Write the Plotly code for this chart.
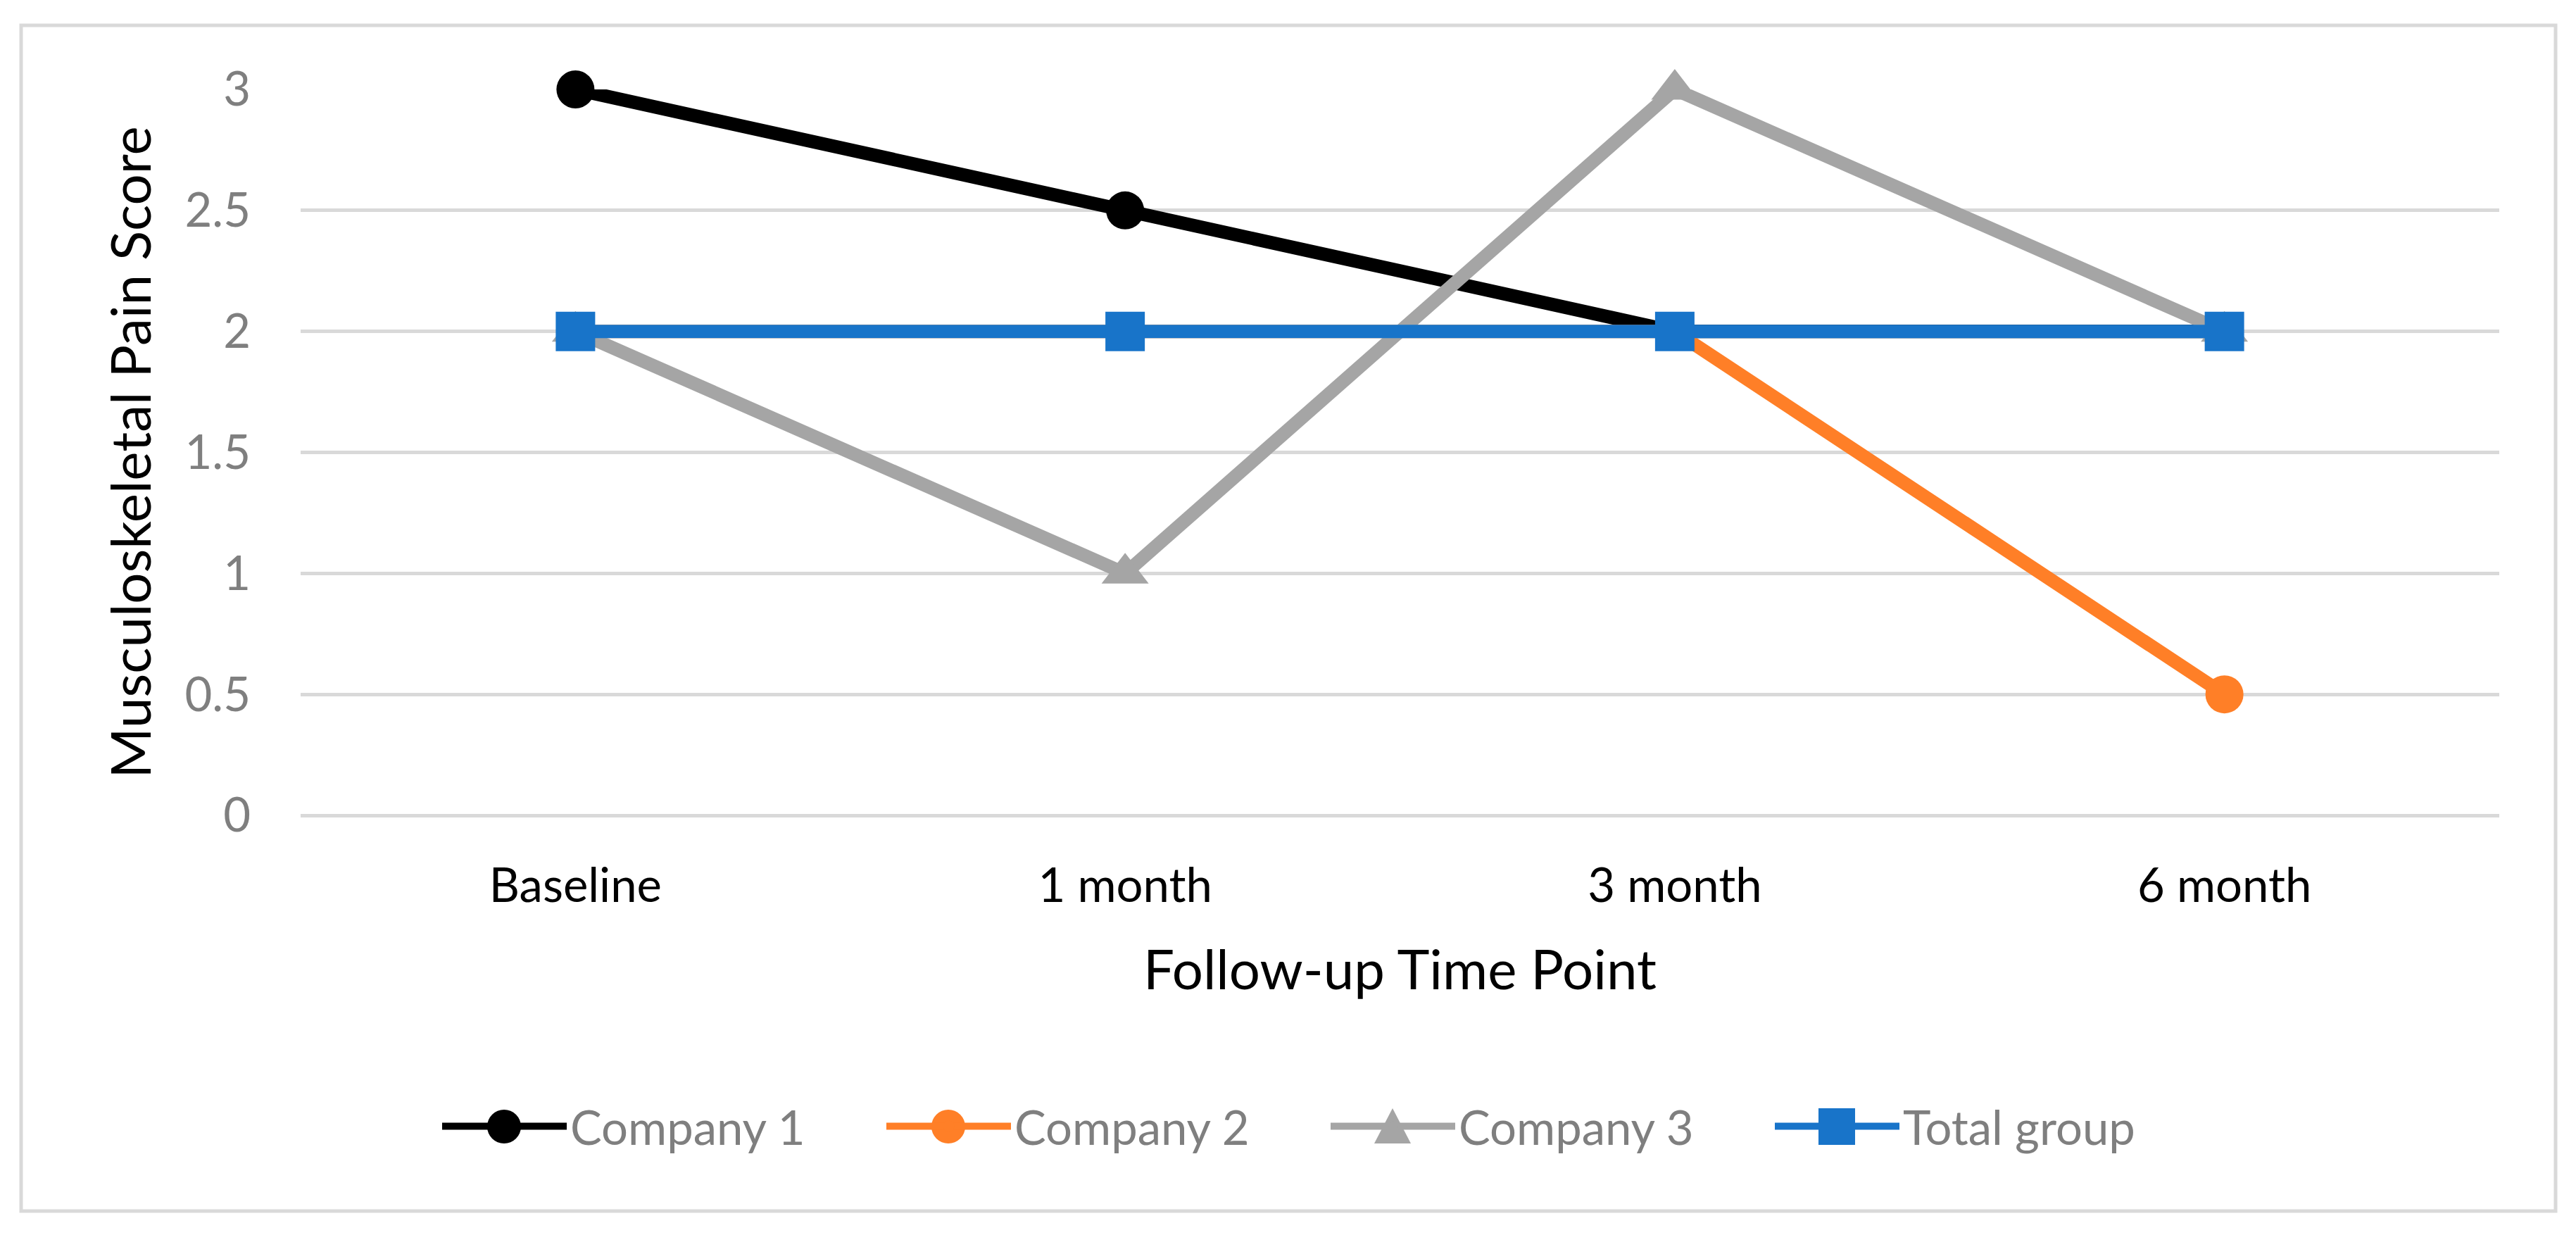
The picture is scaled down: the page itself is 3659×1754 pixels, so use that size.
import plotly.graph_objects as go

categories = ["Baseline", "1 month", "3 month", "6 month"]
company1 = [3, 2.5, 2, 2]
company2 = [2, 2, 2, 0.5]
company3 = [2, 1, 3, 2]
total_group = [2, 2, 2, 2]
y_ticks = [0, 0.5, 1, 1.5, 2, 2.5, 3]
y_tick_labels = ["0", "0.5", "1", "1.5", "2", "2.5", "3"]

# page has an 8px body margin; work in page pixel coordinates and convert
O = 8
W, H = 3659 - O, 1754 - O
PL, PR, PT, PB = 427, 3550, 127, 1158  # plot area in page px
L, R, T, B = PL - O, W - (PR - O), PT - O, H - (PB - O)
FONT = "Lato"
GRID = "#d9d9d9"

series = [
    ("Company 1", company1, "#000000", "circle", 54),
    ("Company 2", company2, "#ff7f27", "circle", 54),
    ("Company 3", company3, "#a5a5a5", "triangle-up", 58),
    ("Total group", total_group, "#1874c9", "square", 56),
]

fig = go.Figure()
for name, vals, col, sym, size in series:
    fig.add_trace(go.Scatter(
        x=categories, y=vals, name=name, mode="lines+markers",
        line=dict(color=col, width=19),
        marker=dict(color=col, symbol=sym, size=size, line=dict(width=0)),
        cliponaxis=False,
    ))

pw = W - L - R
ph = H - T - B
def px_x(x):  # page px -> paper
    return (x - O - L) / pw
def px_y(y):
    return (H - B - (y - O)) / ph

# enlarged legend symbols (native legend caps marker size)
leg_y = 1600
leg_marks = [
    (716, "#000000", "circle"),
    (1347, "#ff7f27", "circle"),
    (1978, "#a5a5a5", "triangle"),
    (2609, "#1874c9", "square"),
]
shapes = [dict(
    type="rect", xref="paper", yref="paper",
    x0=px_x(30), x1=px_x(3630), y0=px_y(1720), y1=px_y(36),
    line=dict(color=GRID, width=5), fillcolor="rgba(0,0,0,0)", layer="below",
)]
for cx, col, kind in leg_marks:
    base = dict(xref="paper", yref="paper", xsizemode="pixel", ysizemode="pixel",
                xanchor=px_x(cx), yanchor=px_y(leg_y), fillcolor=col,
                line=dict(width=0), layer="above")
    if kind == "circle":
        shapes.append(dict(type="circle", x0=-24, x1=24, y0=-24, y1=24, **base))
    elif kind == "square":
        shapes.append(dict(type="rect", x0=-26, x1=26, y0=-26, y1=26, **base))
    else:
        shapes.append(dict(type="path", path="M-26,-24 L26,-24 L0,26 Z", **base))

fig.update_layout(
    template="none",
    width=W, height=H,
    margin=dict(l=L, r=R, t=T, b=B, autoexpand=False),
    paper_bgcolor="white", plot_bgcolor="white",
    font=dict(family=FONT, color="#000000"),
    showlegend=True,
    legend=dict(
        orientation="h", x=px_x(615 + O), y=px_y(leg_y),
        xanchor="left", yanchor="middle",
        font=dict(family=FONT, size=67, color="#7f7f7f"),
        entrywidth=439, entrywidthmode="pixels",
        itemwidth=177, bgcolor="rgba(0,0,0,0)",
    ),
    shapes=shapes,
)

fig.update_xaxes(
    type="category", range=[-0.5, 3.5], automargin=False,
    showgrid=False, zeroline=False, showline=False,
    tickfont=dict(family=FONT, size=67, color="#000000"),
    ticks="", ticklabelstandoff=55,
    title=dict(text="Follow-up Time Point", font=dict(family=FONT, size=78, color="#000000"), standoff=56),
)
fig.update_yaxes(
    range=[0, 3], tickvals=y_ticks, ticktext=y_tick_labels, automargin=False,
    showgrid=True, gridcolor=GRID, gridwidth=5,
    zeroline=True, zerolinecolor=GRID, zerolinewidth=5,
    showline=False, ticks="", ticklabelstandoff=70,
    tickfont=dict(family=FONT, size=67, color="#7f7f7f"),
    title=dict(text="Musculoskeletal Pain Score", font=dict(family=FONT, size=78, color="#000000"), standoff=22),
)

fig.write_html("out.html")
